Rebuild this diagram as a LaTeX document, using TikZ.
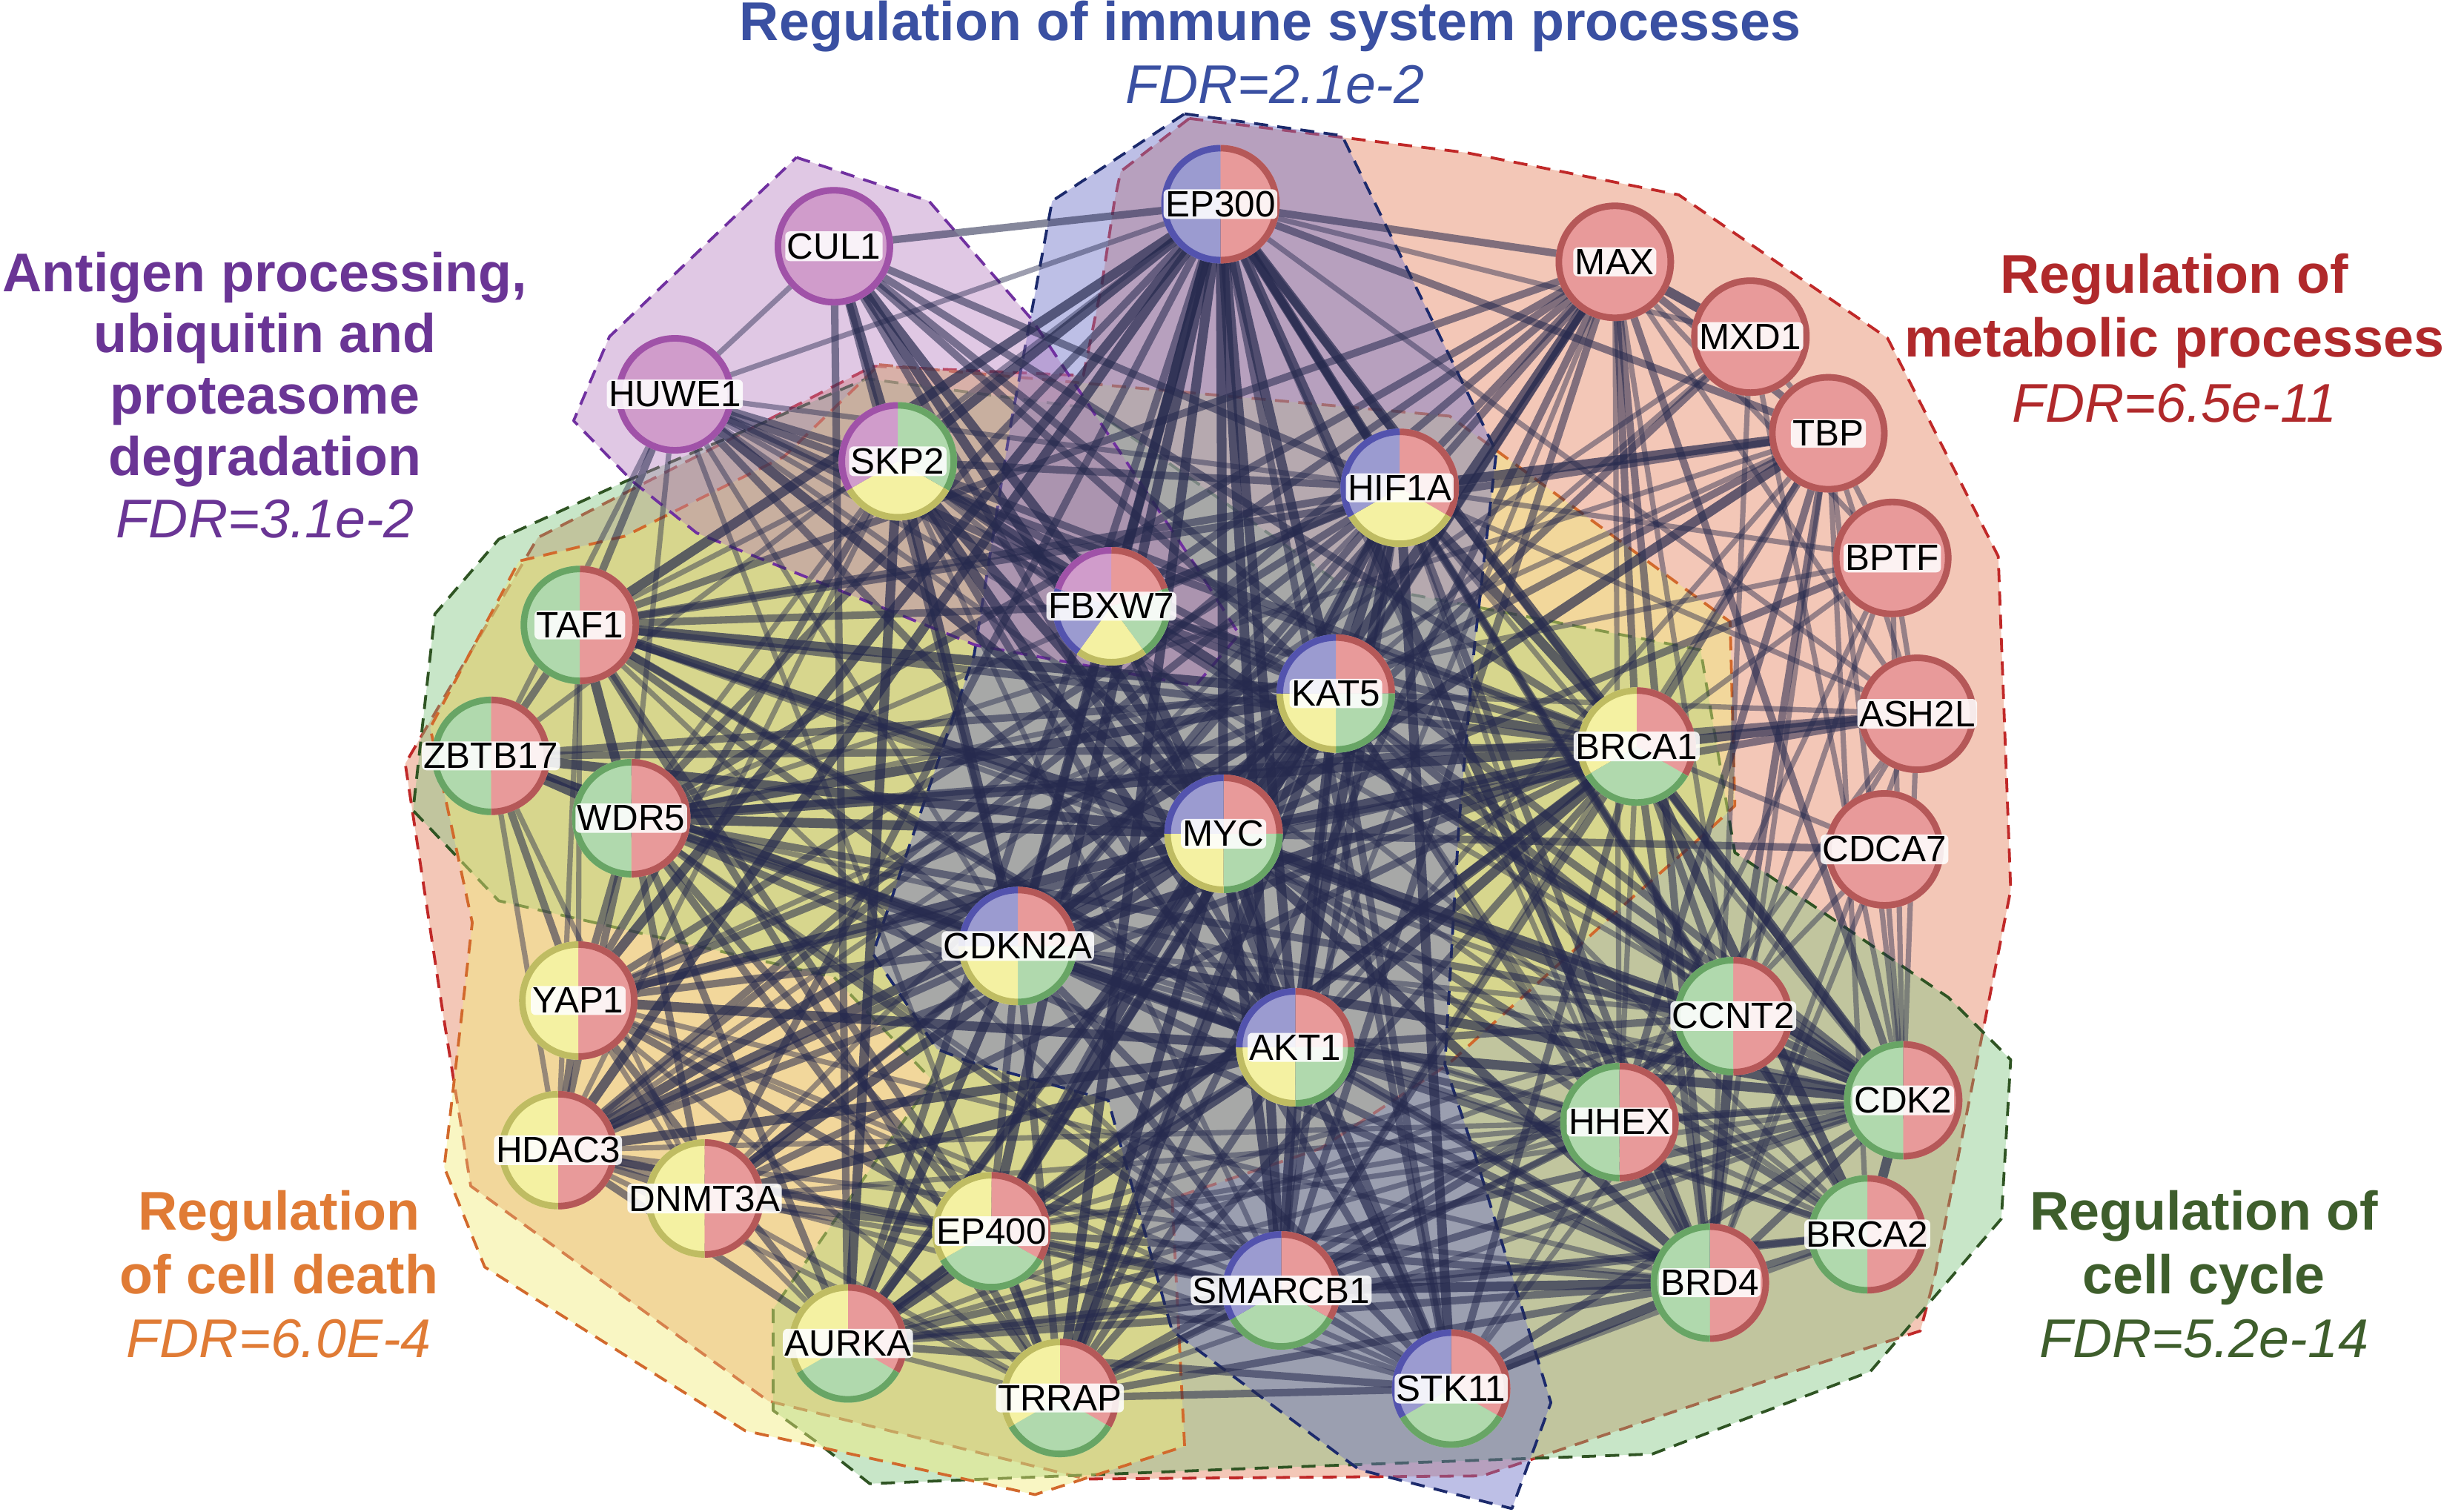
\documentclass[tikz,border=0pt]{standalone}
\usepackage{fontspec}
\setmainfont{Liberation Sans}
\usetikzlibrary{calc}
\definecolor{RF}{HTML}{E89A9A}\definecolor{RD}{HTML}{B55858}
\definecolor{GF}{HTML}{B0D9AD}\definecolor{GD}{HTML}{68A565}
\definecolor{YF}{HTML}{F4F1A2}\definecolor{YD}{HTML}{BFBC62}
\definecolor{BF}{HTML}{9B9BD0}\definecolor{BD}{HTML}{5353AE}
\definecolor{PF}{HTML}{D09CCB}\definecolor{PD}{HTML}{A052A8}
\definecolor{edgec}{HTML}{262A4E}
\definecolor{hR}{HTML}{E37A55}\definecolor{lR}{HTML}{C02828}
\definecolor{hB}{HTML}{6E72C8}\definecolor{lB}{HTML}{1C2A6C}
\definecolor{hP}{HTML}{B276BC}\definecolor{lP}{HTML}{7030A0}
\definecolor{hG}{HTML}{7CC47C}\definecolor{lG}{HTML}{2F5423}
\definecolor{hY}{HTML}{F2EC7A}\definecolor{lY}{HTML}{D2692C}
\definecolor{tB}{HTML}{3A50A2}\definecolor{tP}{HTML}{6A3595}
\definecolor{tR}{HTML}{B0292B}\definecolor{tO}{HTML}{E07B35}
\definecolor{tG}{HTML}{3E5E2C}
\newcommand\pienode[4]{%
  \foreach \fc/\dc [count=\i from 0] in {#3}{%
    \pgfmathsetmacro\pSa{90-\i*360/#2}%
    \pgfmathsetmacro\pEa{90-(\i+1)*360/#2}%
    \fill[fill=\fc] (#1.center) -- ++(\pSa:38pt) arc[start angle=\pSa,end angle=\pEa,radius=38pt] -- cycle;
    \draw[draw=\dc, line width=4.2pt] ($(#1.center)+(\pSa:35.9pt)$) arc[start angle=\pSa,end angle=\pEa,radius=35.9pt];
  }
  \node[lab] (#1-l) at (#1.center) {#4};
}
\begin{document}
\begin{tikzpicture}[x=1pt,y=-1pt,
  gnode/.style={circle,minimum size=76pt,inner sep=0pt,outer sep=0pt},
  lab/.style={fill=white,fill opacity=.88,text opacity=1,inner sep=1.2pt,rounded corners=3pt,font=\fontsize{23.5}{24}\selectfont},
  hull/.style={line width=1.8pt,dash pattern=on 9pt off 6pt,line join=round},
  eA/.style={draw=edgec,line width=6.2pt,opacity=.7},
  eB/.style={draw=edgec,line width=4.8pt,opacity=.56},
  eC/.style={draw=edgec,line width=3.4pt,opacity=.45},
  ttl/.style={anchor=base,font=\fontsize{35}{40}\selectfont\bfseries,inner sep=0pt},
  fdr/.style={anchor=base,font=\fontsize{35}{40}\selectfont\itshape,inner sep=0pt}]
\useasboundingbox (0,0) rectangle (1568,970);
\fill[white] (0,0) rectangle (1568,970);
% node positions
\foreach \n/\x/\y in {ep300/783/131, cul1/535/158, max/1036/168, mxd1/1123/216, tbp/1173/278,
  huwe1/433/253, skp2/576/296, hif1a/898/313, bptf/1214/358, taf1/372/401, fbxw7/713/389,
  kat5/857/445, ash2l/1230/458, zbtb17/315/485, brca1/1050/479, wdr5/405/525, myc/785/535,
  cdca7/1209/545, cdkn2a/653/607, yap1/371/642, ccnt2/1112/652, akt1/831/672, hhex/1039/720,
  cdk2/1221/706, hdac3/358/738, dnmt3a/452/769, ep400/636/790, brca2/1198/792, brd4/1097/823,
  smarcb1/822/828, aurka/544/862, trrap/680/897, stk11/931/891}
  \node[gnode] (\n) at (\x,\y) {};
% hulls
\path[hull,fill=hR,fill opacity=.42,draw=lR] (763,76) -- (941,98) -- (1077,125) -- (1211,217) -- (1282,357) -- (1290,571) -- (1241,820) -- (1232,854) -- (1151,880) -- (951,947) -- (697,949) -- (493,899) -- (302,761) -- (284,649) -- (260,490) -- (345,345) -- (560,235) -- (695,241) -- (707,182) -- (715,129) -- (719,110) -- cycle;
\path[hull,fill=hG,fill opacity=.42,draw=lG] (401,309) -- (556,243) -- (700,262) -- (856,372) -- (1091,417) -- (1113,547) -- (1250,640) -- (1290,680) -- (1284,782) -- (1200,880) -- (1060,933) -- (808,942) -- (558,952) -- (525,926) -- (496,905) -- (496,840) -- (598,693) -- (535,627) -- (320,578) -- (265,520) -- (279,394) -- (320,346) -- cycle;
\path[hull,fill=hY,fill opacity=.45,draw=lY] (564,234) -- (930,267) -- (1110,399) -- (1113,517) -- (1096,533) -- (1046,577) -- (929,683) -- (847,737) -- (752,769) -- (760,928) -- (689,951) -- (664,959) -- (478,918) -- (311,813) -- (285,749) -- (303,592) -- (276,467) -- (333,360) -- (401,344) -- (503,293) -- cycle;
\path[hull,fill=hB,fill opacity=.45,draw=lB] (760,73) -- (861,87) -- (960,290) -- (946,414) -- (936,529) -- (927,683) -- (946,740) -- (995,900) -- (970,968) -- (872,943) -- (752,854) -- (711,706) -- (621,681) -- (601,673) -- (560,612) -- (625,420) -- (648,275) -- (675,129) -- cycle;
\path[hull,fill=hP,fill opacity=.4,draw=lP] (511,101) -- (596,129) -- (662,205) -- (767,363) -- (795,407) -- (767,440) -- (626,414) -- (447,342) -- (406,309) -- (368,270) -- (391,216) -- cycle;
% thin edges
\foreach \a/\b in {ep300/huwe1,ep300/zbtb17,ep300/hhex,ep300/ash2l,ep300/mxd1,cul1/huwe1,
  huwe1/cdkn2a,huwe1/hif1a,huwe1/wdr5,huwe1/zbtb17,huwe1/brca2,huwe1/cdk2,huwe1/trrap,
  skp2/taf1,skp2/hdac3,skp2/wdr5,skp2/brca2,skp2/smarcb1,
  hif1a/wdr5,hif1a/dnmt3a,hif1a/cdk2,hif1a/ccnt2,hif1a/hhex,hif1a/ash2l,hif1a/bptf,
  max/akt1,max/ccnt2,max/hhex,max/bptf,max/ash2l,mxd1/tbp,mxd1/hdac3,mxd1/kat5,mxd1/brd4,mxd1/cdk2,
  tbp/cdk2,tbp/brd4,tbp/bptf,tbp/ash2l,tbp/akt1,tbp/brca2,tbp/wdr5,tbp/smarcb1,tbp/yap1,
  bptf/ash2l,bptf/wdr5,bptf/brca1,bptf/ccnt2,bptf/cdk2,bptf/hhex,
  ash2l/kat5,ash2l/cdk2,ash2l/brd4,ash2l/ccnt2,ash2l/hhex,
  cdca7/brca1,cdca7/cdk2,cdca7/brd4,cdca7/hhex,taf1/yap1,taf1/smarcb1,taf1/hdac3,taf1/cdk2,
  zbtb17/hdac3,zbtb17/dnmt3a,wdr5/hhex,wdr5/cdk2,wdr5/stk11,
  yap1/trrap,yap1/dnmt3a,yap1/smarcb1,yap1/stk11,yap1/brd4,hdac3/trrap,hdac3/brd4,hdac3/stk11,hdac3/hhex,
  dnmt3a/aurka,dnmt3a/smarcb1,dnmt3a/trrap,dnmt3a/cdk2,aurka/trrap,aurka/hhex,aurka/ccnt2,
  trrap/hhex,trrap/cdk2,ep400/cdk2,ep400/hhex,ep400/stk11,ep400/ccnt2,stk11/hhex,stk11/brca2,stk11/ccnt2,
  hhex/brca1,hhex/ccnt2,hhex/brca2,hhex/kat5,hhex/cdkn2a,ccnt2/cdkn2a,ccnt2/brca2,brca2/kat5,brca2/cdkn2a}
  \draw[eC] (\a.center) -- (\b.center);
% medium edges
\foreach \a/\b in {ep300/cul1,ep300/max,ep300/tbp,ep300/stk11,ep300/wdr5,ep300/dnmt3a,ep300/aurka,ep300/ccnt2,ep300/cdk2,ep300/brca2,
  cul1/kat5,cul1/cdkn2a,cul1/akt1,cul1/hif1a,cul1/brca1,cul1/aurka,cul1/cdk2,
  huwe1/skp2,huwe1/taf1,huwe1/fbxw7,huwe1/kat5,huwe1/brca1,huwe1/akt1,
  skp2/fbxw7,skp2/kat5,skp2/brca1,skp2/hif1a,skp2/yap1,skp2/stk11,
  hif1a/max,hif1a/cdkn2a,hif1a/hdac3,hif1a/yap1,hif1a/taf1,hif1a/brd4,hif1a/smarcb1,hif1a/ep400,hif1a/trrap,
  max/tbp,max/kat5,max/brca1,max/wdr5,max/taf1,max/trrap,max/ep400,max/cdk2,max/brd4,max/cdkn2a,max/smarcb1,max/hdac3,max/fbxw7,
  mxd1/myc,tbp/taf1,tbp/brca1,tbp/kat5,tbp/ccnt2,tbp/hhex,bptf/myc,ash2l/wdr5,ash2l/myc,cdca7/myc,
  taf1/zbtb17,taf1/brca1,taf1/akt1,taf1/cdkn2a,taf1/ep400,taf1/trrap,taf1/brd4,taf1/ccnt2,taf1/fbxw7,
  zbtb17/yap1,zbtb17/kat5,zbtb17/cdkn2a,zbtb17/akt1,zbtb17/brca1,
  wdr5/cdkn2a,wdr5/akt1,wdr5/yap1,wdr5/hdac3,wdr5/dnmt3a,wdr5/ep400,wdr5/trrap,wdr5/smarcb1,wdr5/brd4,wdr5/ccnt2,wdr5/aurka,
  yap1/hdac3,yap1/cdkn2a,yap1/kat5,yap1/brca1,yap1/ep400,yap1/aurka,
  hdac3/dnmt3a,hdac3/cdkn2a,hdac3/brca1,hdac3/smarcb1,hdac3/ep400,hdac3/aurka,
  dnmt3a/kat5,dnmt3a/cdkn2a,dnmt3a/brca1,dnmt3a/ep400,
  aurka/kat5,aurka/ep400,aurka/cdk2,aurka/brca2,aurka/brd4,aurka/smarcb1,aurka/stk11,
  trrap/akt1,trrap/brca1,trrap/cdkn2a,trrap/smarcb1,trrap/stk11,trrap/brd4,trrap/ccnt2,
  ep400/akt1,ep400/cdkn2a,ep400/smarcb1,ep400/brd4,ep400/brca1,
  smarcb1/cdkn2a,smarcb1/kat5,smarcb1/brca1,smarcb1/stk11,smarcb1/cdk2,smarcb1/brca2,smarcb1/hhex,smarcb1/ccnt2,
  stk11/myc,stk11/cdkn2a,stk11/kat5,stk11/brca1,stk11/cdk2,hhex/myc,hhex/brd4,hhex/cdk2,hhex/akt1,
  ccnt2/cdk2,ccnt2/akt1,ccnt2/brca1,ccnt2/kat5,cdk2/brd4,cdk2/kat5,cdk2/fbxw7,brca2/brd4,brca2/akt1,brca2/myc,
  brd4/akt1,brd4/brca1,brd4/kat5,brd4/cdkn2a,brca1/fbxw7,kat5/fbxw7,akt1/fbxw7,cdkn2a/fbxw7}
  \draw[eB] (\a.center) -- (\b.center);
% thick edges
\foreach \a/\b in {ep300/skp2,ep300/hif1a,ep300/fbxw7,ep300/kat5,ep300/myc,ep300/akt1,ep300/cdkn2a,ep300/smarcb1,ep300/brca1,
  ep300/taf1,ep300/yap1,ep300/hdac3,ep300/ep400,ep300/trrap,ep300/brd4,
  cul1/skp2,cul1/fbxw7,cul1/myc,huwe1/myc,skp2/myc,skp2/cdkn2a,skp2/akt1,skp2/cdk2,skp2/aurka,
  hif1a/tbp,hif1a/kat5,hif1a/myc,hif1a/akt1,hif1a/fbxw7,hif1a/brca1,hif1a/stk11,
  max/mxd1,max/myc,tbp/myc,ash2l/brca1,taf1/wdr5,taf1/myc,taf1/kat5,zbtb17/wdr5,zbtb17/myc,
  wdr5/myc,wdr5/kat5,wdr5/brca1,yap1/myc,yap1/akt1,hdac3/myc,hdac3/akt1,hdac3/kat5,dnmt3a/myc,dnmt3a/akt1,
  aurka/myc,aurka/akt1,aurka/brca1,aurka/cdkn2a,trrap/ep400,trrap/myc,trrap/kat5,ep400/myc,ep400/kat5,
  smarcb1/myc,smarcb1/akt1,smarcb1/brd4,stk11/akt1,stk11/brd4,ccnt2/myc,ccnt2/brd4,
  cdk2/myc,cdk2/akt1,cdk2/brca1,cdk2/brca2,cdk2/cdkn2a,brca2/brca1,brd4/myc,
  brca1/myc,brca1/akt1,brca1/kat5,brca1/cdkn2a,myc/kat5,myc/akt1,myc/cdkn2a,myc/fbxw7,kat5/akt1,kat5/cdkn2a,akt1/cdkn2a}
  \draw[eA] (\a.center) -- (\b.center);
% nodes
\pienode{ep300}{2}{RF/RD,BF/BD}{EP300}
\pienode{cul1}{1}{PF/PD}{CUL1}
\pienode{huwe1}{1}{PF/PD}{HUWE1}
\pienode{max}{1}{RF/RD}{MAX}
\pienode{mxd1}{1}{RF/RD}{MXD1}
\pienode{tbp}{1}{RF/RD}{TBP}
\pienode{bptf}{1}{RF/RD}{BPTF}
\pienode{ash2l}{1}{RF/RD}{ASH2L}
\pienode{cdca7}{1}{RF/RD}{CDCA7}
\pienode{skp2}{3}{GF/GD,YF/YD,PF/PD}{SKP2}
\pienode{hif1a}{3}{RF/RD,YF/YD,BF/BD}{HIF1A}
\pienode{fbxw7}{5}{RF/RD,GF/GD,YF/YD,BF/BD,PF/PD}{FBXW7}
\pienode{kat5}{4}{RF/RD,GF/GD,YF/YD,BF/BD}{KAT5}
\pienode{myc}{4}{RF/RD,GF/GD,YF/YD,BF/BD}{MYC}
\pienode{cdkn2a}{4}{RF/RD,GF/GD,YF/YD,BF/BD}{CDKN2A}
\pienode{akt1}{4}{RF/RD,GF/GD,YF/YD,BF/BD}{AKT1}
\pienode{taf1}{2}{RF/RD,GF/GD}{TAF1}
\pienode{zbtb17}{2}{RF/RD,GF/GD}{ZBTB17}
\pienode{wdr5}{2}{RF/RD,GF/GD}{WDR5}
\pienode{ccnt2}{2}{RF/RD,GF/GD}{CCNT2}
\pienode{hhex}{2}{RF/RD,GF/GD}{HHEX}
\pienode{cdk2}{2}{RF/RD,GF/GD}{CDK2}
\pienode{brca2}{2}{RF/RD,GF/GD}{BRCA2}
\pienode{brd4}{2}{RF/RD,GF/GD}{BRD4}
\pienode{brca1}{3}{RF/RD,GF/GD,YF/YD}{BRCA1}
\pienode{ep400}{3}{RF/RD,GF/GD,YF/YD}{EP400}
\pienode{aurka}{3}{RF/RD,GF/GD,YF/YD}{AURKA}
\pienode{trrap}{3}{RF/RD,GF/GD,YF/YD}{TRRAP}
\pienode{yap1}{2}{RF/RD,YF/YD}{YAP1}
\pienode{hdac3}{2}{RF/RD,YF/YD}{HDAC3}
\pienode{dnmt3a}{2}{RF/RD,YF/YD}{DNMT3A}
\pienode{smarcb1}{3}{RF/RD,GF/GD,BF/BD}{SMARCB1}
\pienode{stk11}{3}{RF/RD,GF/GD,BF/BD}{STK11}
% titles
\node[ttl,text=tB] (tb1) at (815,26) {Regulation of immune system processes};
\node[fdr,text=tB] (tb2) at (818,66.5) {FDR=2.1e-2};
\node[ttl,text=tP] (tp1) at (170,187) {Antigen processing,};
\node[ttl,text=tP] (tp2) at (170,226) {ubiquitin and};
\node[ttl,text=tP] (tp3) at (170,265.5) {proteasome};
\node[ttl,text=tP] (tp4) at (170,305) {degradation};
\node[fdr,text=tP] (tp5) at (170,345) {FDR=3.1e-2};
\node[ttl,text=tR] (tr1) at (1395,188) {Regulation of};
\node[ttl,text=tR] (tr2) at (1395,229) {metabolic processes};
\node[fdr,text=tR] (tr3) at (1395,271) {FDR=6.5e-11};
\node[ttl,text=tO] (to1) at (179,789) {Regulation};
\node[ttl,text=tO] (to2) at (179,830) {of cell death};
\node[fdr,text=tO] (to3) at (179,871) {FDR=6.0E-4};
\node[ttl,text=tG] (tg1) at (1414,789) {Regulation of};
\node[ttl,text=tG] (tg2) at (1414,830) {cell cycle};
\node[fdr,text=tG] (tg3) at (1414,871) {FDR=5.2e-14};
\end{tikzpicture}
\end{document}
